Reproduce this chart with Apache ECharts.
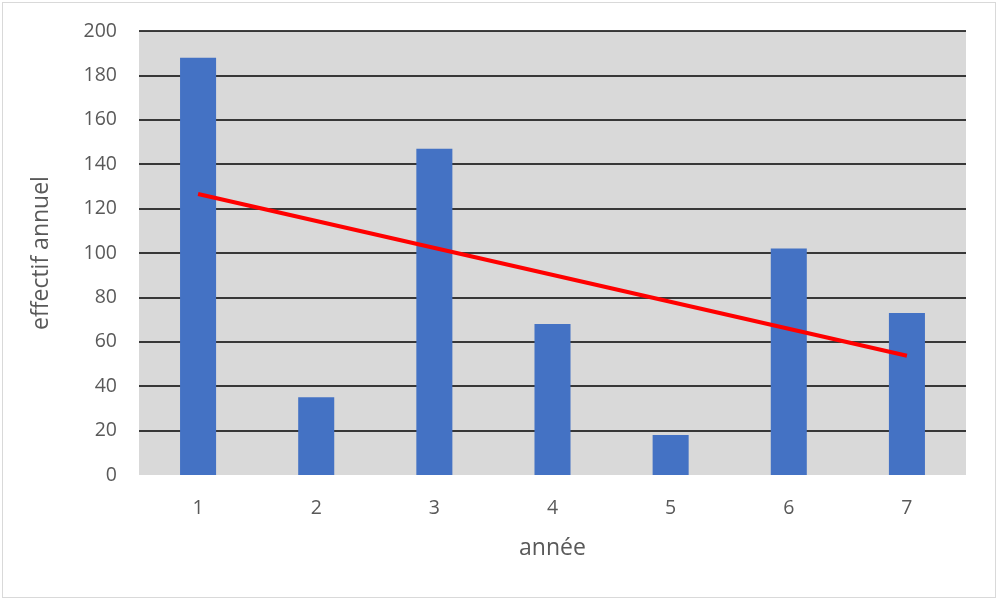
<!DOCTYPE html>
<html><head><meta charset="utf-8">
<script src="https://cdn.jsdelivr.net/npm/echarts@6/dist/echarts.min.js"></script>
<style>
html,body{margin:0;padding:0;background:#fff;}
#frame{position:absolute;left:2px;top:2px;width:994px;height:596px;border:1px solid #d9d9d9;box-sizing:border-box;}
#c{position:absolute;left:0;top:0;width:1000px;height:602px;}
</style></head>
<body>
<div id="frame"></div>
<div id="c"></div>
<script>
const categories = ['1','2','3','4','5','6','7'];
const effectif = [188, 35, 147, 68, 18, 102, 73];
const trend = [126.6, '-', '-', '-', '-', '-', 53.7];
const yTicks = {min: 0, max: 200, interval: 20};

const chart = echarts.init(document.getElementById('c'), null, {renderer: 'canvas'});
const font = '"Open Sans", "Liberation Sans", sans-serif';
chart.setOption({
  animation: false,
  grid: {left: 139, right: 34, top: 31, bottom: 127, show: true, backgroundColor: '#d9d9d9', borderWidth: 0},
  xAxis: {
    type: 'category', data: categories,
    name: 'année', nameLocation: 'middle', nameGap: 62,
    nameTextStyle: {color: '#595959', fontSize: 23, fontFamily: font},
    axisLine: {show: false}, axisTick: {show: false},
    axisLabel: {color: '#595959', fontSize: 19.5, fontFamily: font, margin: 23}
  },
  yAxis: {
    type: 'value', min: yTicks.min, max: yTicks.max, interval: yTicks.interval,
    name: 'effectif annuel', nameLocation: 'middle', nameGap: 86,
    nameTextStyle: {color: '#595959', fontSize: 23, fontFamily: font},
    axisLine: {show: false}, axisTick: {show: false},
    axisLabel: {color: '#595959', fontSize: 19.5, fontFamily: font, margin: 22},
    splitLine: {show: true, showMinLine: false, lineStyle: {color: '#000', width: 1.5}}
  },
  series: [
    {type: 'bar', data: effectif, barWidth: '30.5%', itemStyle: {color: '#4472c4'}, z: 2},
    {type: 'line', data: trend, connectNulls: true, symbol: 'none',
     lineStyle: {color: '#ff0000', width: 4}, z: 3}
  ]
});
</script>
</body></html>
